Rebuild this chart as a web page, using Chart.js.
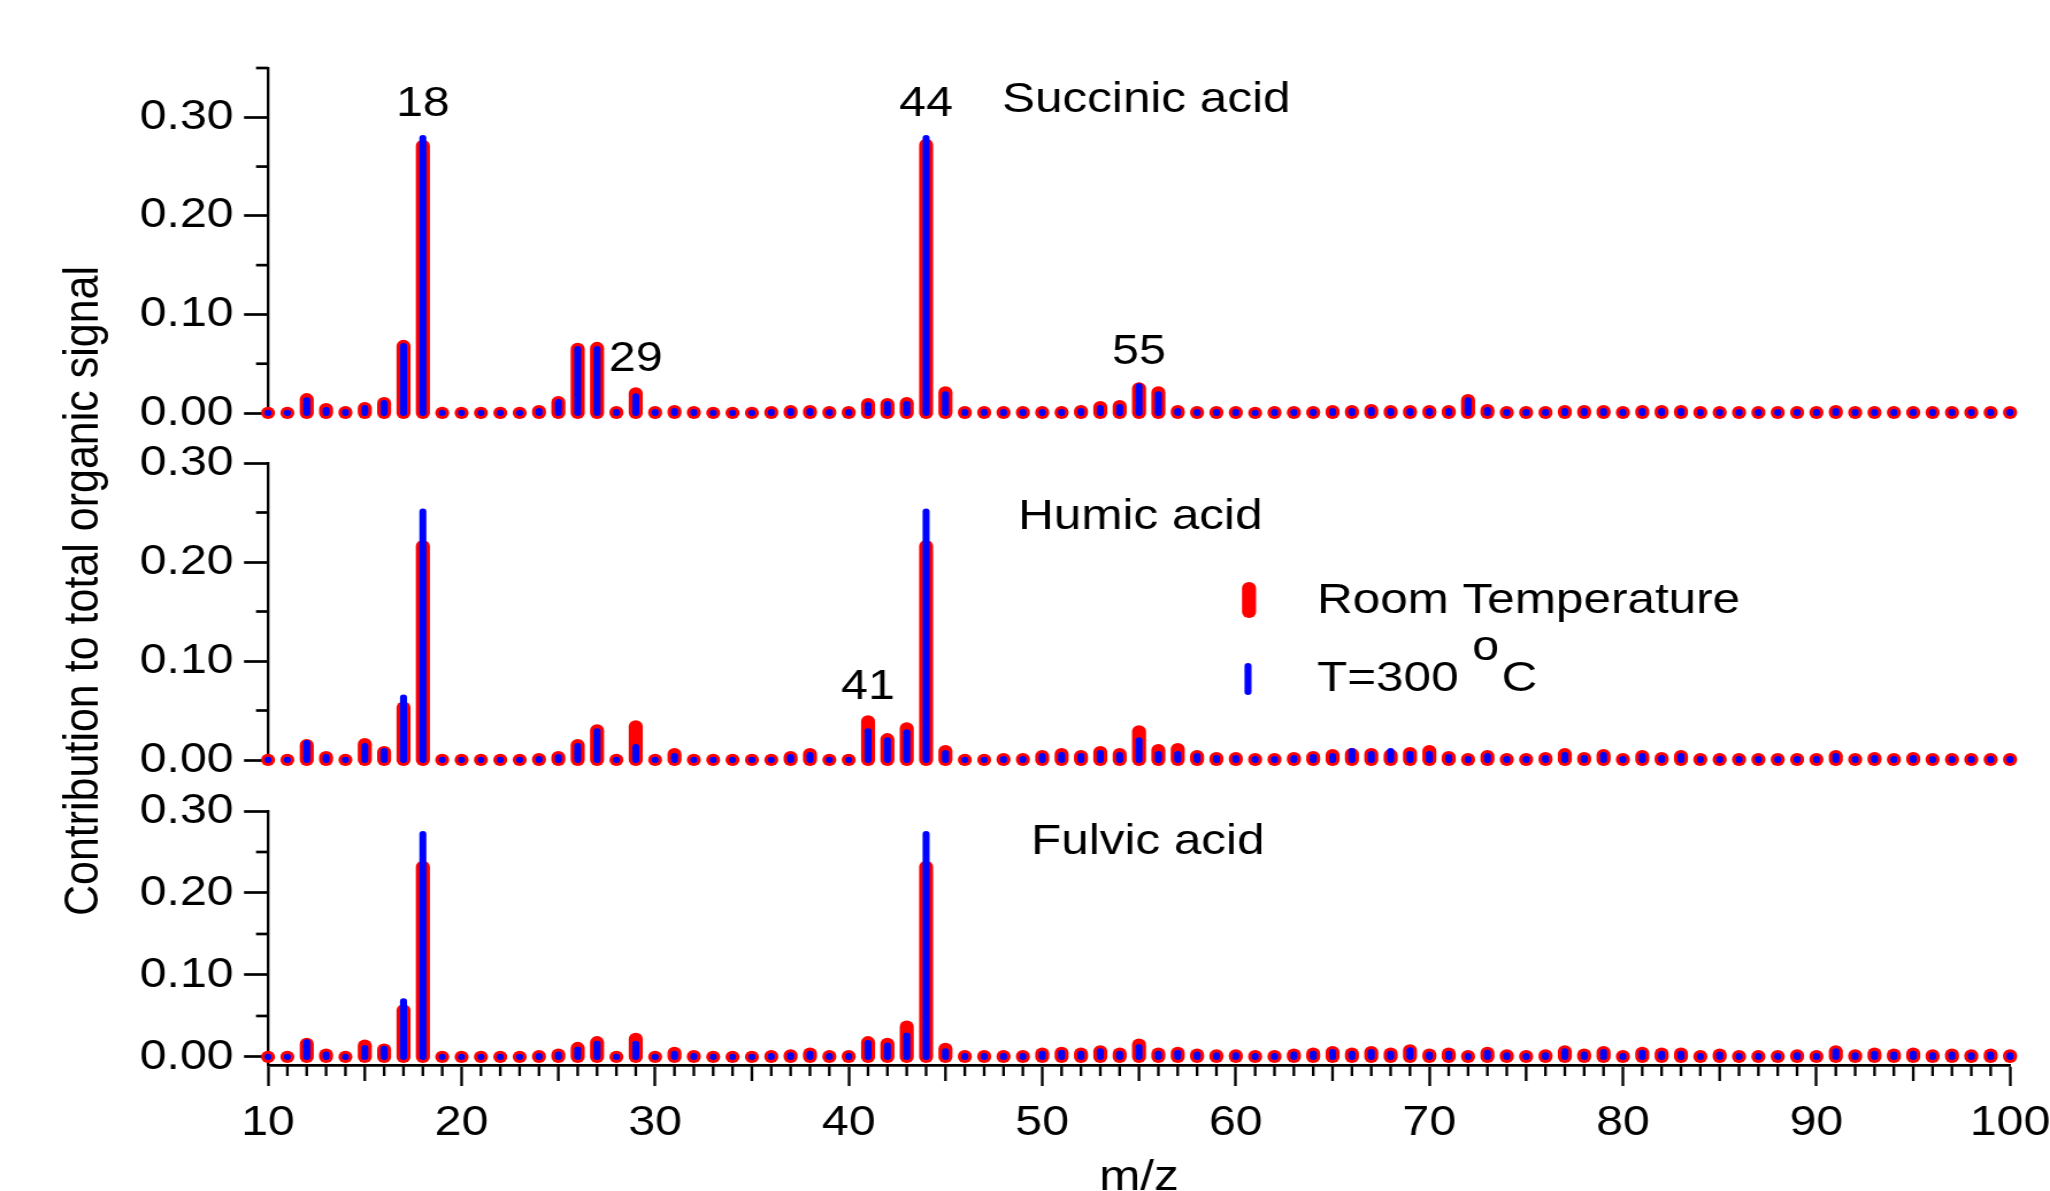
<!DOCTYPE html>
<html>
<head>
<meta charset="utf-8">
<script src="https://cdn.jsdelivr.net/npm/chart.js@4.4.1/dist/chart.umd.min.js"></script>
<style>
  html, body { margin: 0; padding: 0; background: #fff; overflow: hidden; }
  #wrap { position: relative; width: 2050px; height: 1191px; }
  canvas { position: absolute; left: 0; top: 0; }
</style>
</head>
<body>
<div id="wrap">
  <canvas id="succinic" width="1783" height="1191" style="width:2050px;height:1191px"></canvas>
  <canvas id="humic" width="1783" height="1191" style="width:2050px;height:1191px"></canvas>
  <canvas id="fulvic" width="1783" height="1191" style="width:2050px;height:1191px"></canvas>
</div>
<script>
// m/z categories
const mz = [10, 11, 12, 13, 14, 15, 16, 17, 18, 19,
  20, 21, 22, 23, 24, 25, 26, 27, 28, 29,
  30, 31, 32, 33, 34, 35, 36, 37, 38, 39,
  40, 41, 42, 43, 44, 45, 46, 47, 48, 49,
  50, 51, 52, 53, 54, 55, 56, 57, 58, 59,
  60, 61, 62, 63, 64, 65, 66, 67, 68, 69,
  70, 71, 72, 73, 74, 75, 76, 77, 78, 79,
  80, 81, 82, 83, 84, 85, 86, 87, 88, 89,
  90, 91, 92, 93, 94, 95, 96, 97, 98, 99,
  100]

const succinicRoom = [0, 0, 0.014, 0.004, 0.001, 0.005, 0.010, 0.068, 0.271, 0,
  0, 0, 0, 0, 0.002, 0.011, 0.065, 0.066, 0.001, 0.020,
  0.001, 0.002, 0.001, 0, 0, 0, 0.001, 0.002, 0.002, 0.001,
  0.001, 0.009, 0.009, 0.010, 0.272, 0.021, 0.001, 0.001, 0.001, 0.001,
  0.001, 0.001, 0.002, 0.006, 0.007, 0.025, 0.021, 0.002, 0.001, 0.001,
  0.001, 0, 0.001, 0.001, 0.001, 0.002, 0.002, 0.003, 0.002, 0.002,
  0.002, 0.002, 0.013, 0.003, 0.001, 0.001, 0.001, 0.002, 0.002, 0.002,
  0.001, 0.002, 0.002, 0.002, 0.001, 0.001, 0.001, 0.001, 0.001, 0.001,
  0.001, 0.002, 0.001, 0.001, 0.001, 0.001, 0.001, 0.001, 0.001, 0.001,
  0.001]
const succinic300 = [0, 0, 0.013, 0.003, 0.001, 0.005, 0.010, 0.068, 0.279, 0,
  0, 0, 0, 0, 0.002, 0.011, 0.065, 0.065, 0.001, 0.017,
  0.001, 0.002, 0.001, 0, 0, 0, 0.001, 0.002, 0.002, 0.001,
  0.001, 0.008, 0.009, 0.009, 0.279, 0.019, 0.001, 0.001, 0.001, 0.001,
  0.001, 0.001, 0.002, 0.005, 0.006, 0.027, 0.019, 0.002, 0.001, 0.001,
  0.001, 0, 0.001, 0.001, 0.001, 0.002, 0.002, 0.003, 0.002, 0.002,
  0.002, 0.002, 0.013, 0.003, 0.001, 0.001, 0.001, 0.002, 0.002, 0.002,
  0.001, 0.002, 0.002, 0.002, 0.001, 0.001, 0.001, 0.001, 0.001, 0.001,
  0.001, 0.002, 0.001, 0.001, 0.001, 0.001, 0.001, 0.001, 0.001, 0.001,
  0.001]

const humicRoom = [0, 0, 0.015, 0.003, 0, 0.016, 0.008, 0.053, 0.216, 0,
  0, 0, 0, 0, 0.001, 0.003, 0.015, 0.030, 0, 0.034,
  0, 0.006, 0, 0, 0, 0, 0, 0.003, 0.006, 0,
  0, 0.039, 0.021, 0.032, 0.216, 0.009, 0, 0, 0.001, 0.001,
  0.004, 0.006, 0.004, 0.008, 0.006, 0.029, 0.010, 0.011, 0.004, 0.002,
  0.002, 0.001, 0.001, 0.002, 0.003, 0.005, 0.006, 0.006, 0.005, 0.007,
  0.009, 0.003, 0.001, 0.004, 0.001, 0.001, 0.002, 0.006, 0.002, 0.005,
  0.001, 0.004, 0.002, 0.004, 0.001, 0.001, 0.001, 0.001, 0.001, 0.001,
  0.001, 0.004, 0.001, 0.002, 0.001, 0.002, 0.001, 0.001, 0.001, 0.001,
  0.001]
const humic300 = [0, 0, 0.017, 0.003, 0, 0.014, 0.009, 0.063, 0.251, 0,
  0, 0, 0, 0, 0.001, 0.003, 0.014, 0.029, 0, 0.013,
  0, 0.004, 0, 0, 0, 0, 0, 0.003, 0.005, 0,
  0, 0.029, 0.020, 0.028, 0.251, 0.007, 0, 0, 0.001, 0.001,
  0.004, 0.005, 0.004, 0.007, 0.005, 0.020, 0.006, 0.006, 0.004, 0.002,
  0.002, 0.001, 0.001, 0.002, 0.003, 0.004, 0.009, 0.006, 0.009, 0.006,
  0.006, 0.003, 0.001, 0.004, 0.001, 0.001, 0.002, 0.005, 0.002, 0.005,
  0.001, 0.004, 0.002, 0.004, 0.001, 0.001, 0.001, 0.001, 0.001, 0.001,
  0.001, 0.004, 0.001, 0.002, 0.001, 0.002, 0.001, 0.001, 0.001, 0.001,
  0.001]

const fulvicRoom = [0, 0, 0.016, 0.003, 0, 0.014, 0.009, 0.057, 0.232, 0,
  0, 0, 0, 0, 0.001, 0.003, 0.011, 0.018, 0, 0.022,
  0, 0.005, 0.001, 0, 0, 0, 0.001, 0.002, 0.004, 0.001,
  0.001, 0.018, 0.016, 0.037, 0.232, 0.010, 0.001, 0.001, 0.001, 0.001,
  0.004, 0.005, 0.004, 0.007, 0.004, 0.015, 0.004, 0.005, 0.003, 0.002,
  0.002, 0.001, 0.001, 0.003, 0.004, 0.006, 0.004, 0.006, 0.004, 0.008,
  0.003, 0.004, 0.001, 0.005, 0.002, 0.001, 0.002, 0.007, 0.003, 0.006,
  0.001, 0.005, 0.004, 0.004, 0.001, 0.003, 0.001, 0.001, 0.001, 0.002,
  0.001, 0.007, 0.002, 0.004, 0.003, 0.004, 0.002, 0.003, 0.002, 0.003,
  0.002]
const fulvic300 = [0, 0, 0.018, 0.003, 0, 0.011, 0.010, 0.068, 0.272, 0,
  0, 0, 0, 0, 0.001, 0.003, 0.009, 0.016, 0, 0.016,
  0, 0.004, 0.001, 0, 0, 0, 0.001, 0.002, 0.004, 0.001,
  0.001, 0.017, 0.014, 0.026, 0.272, 0.007, 0.001, 0.001, 0.001, 0.001,
  0.004, 0.005, 0.004, 0.007, 0.004, 0.012, 0.004, 0.005, 0.003, 0.002,
  0.002, 0.001, 0.001, 0.003, 0.004, 0.006, 0.004, 0.006, 0.004, 0.008,
  0.003, 0.004, 0.001, 0.005, 0.002, 0.001, 0.002, 0.007, 0.003, 0.006,
  0.001, 0.005, 0.004, 0.004, 0.001, 0.003, 0.001, 0.001, 0.001, 0.002,
  0.001, 0.007, 0.002, 0.004, 0.003, 0.004, 0.002, 0.003, 0.002, 0.003,
  0.002]

const yTicks = [0, 0.1, 0.2, 0.3]
const yMinorTop = [0.05, 0.15, 0.25, 0.35]
const yMinor = [0.05, 0.15, 0.25]
const xTicks = [10, 20, 30, 40, 50, 60, 70, 80, 90, 100]
const seriesNames = ['Room Temperature', 'T=300 °C']
const yTitle = 'Contribution to total organic signal'

// the original figure is stretched sideways, so canvases are drawn narrow and widened by css
const S = 2050 / 1783
const cx = (v) => v / S

Chart.defaults.font.family = "'Liberation Sans', Arial, Helvetica, sans-serif"
Chart.defaults.color = '#000'

const RED = '#ff0000'
const BLUE = '#0000ff'

function font(size) {
  return size + "px 'Liberation Sans', Arial, Helvetica, sans-serif"
}

// vertical stems with round ends, drawn from the points chart.js placed
const stems = {
  id: 'stems',
  afterDatasetsDraw(chart) {
    const ctx = chart.ctx
    const y0 = chart.scales.y.getPixelForValue(0)
    ctx.save()
    ctx.lineCap = 'round'
    chart.data.datasets.forEach((ds, i) => {
      ctx.strokeStyle = ds.borderColor
      ctx.lineWidth = ds.borderWidth
      chart.getDatasetMeta(i).data.forEach((pt) => {
        ctx.beginPath()
        ctx.moveTo(pt.x, y0)
        ctx.lineTo(pt.x, Math.min(pt.y, y0 - 0.1))
        ctx.stroke()
      })
    })
    ctx.restore()
  },
}

function makePanel(id, cfg) {
  const extras = {
    id: 'extras',
    afterDraw(chart) {
      const ctx = chart.ctx
      const xs = chart.scales.x
      const ys = chart.scales.y
      ctx.save()
      ctx.strokeStyle = '#000'
      ctx.fillStyle = '#000'

      // short y ticks
      ctx.lineWidth = 2.7
      cfg.minor.forEach((v) => {
        const y = ys.getPixelForValue(v)
        ctx.beginPath()
        ctx.moveTo(ys.right - cx(12), y)
        ctx.lineTo(ys.right, y)
        ctx.stroke()
      })

      // short x ticks
      if (cfg.showX) {
        ctx.lineWidth = 2.35
        mz.filter((m) => !xTicks.includes(m)).forEach((m) => {
          const x = xs.getPixelForValue(m)
          ctx.beginPath()
          ctx.moveTo(x, xs.top)
          ctx.lineTo(x, xs.top + (m % 5 === 0 ? 16 : 11))
          ctx.stroke()
        })
      }

      // panel name
      ctx.font = font(43)
      ctx.textAlign = 'left'
      ctx.textBaseline = 'alphabetic'
      ctx.fillText(cfg.title, cx(cfg.titleX), cfg.titleY)

      // peak labels
      ctx.font = font(42)
      ctx.textAlign = 'center'
      ctx.textBaseline = 'middle'
      cfg.peaks.forEach((m) => {
        const i = mz.indexOf(m)
        const top = Math.max(cfg.room[i], cfg.hot[i])
        ctx.fillText(String(m), xs.getPixelForValue(m), ys.getPixelForValue(top) - 34)
      })

      if (cfg.legend) {
        const rows = [{ y0: 588, y1: 612, x: 1249, ty: 613 }, { y0: 666, y1: 692, x: 1248, ty: 691 }]
        chart.data.datasets.forEach((ds, i) => {
          const r = rows[i]
          ctx.lineCap = 'round'
          ctx.strokeStyle = ds.borderColor
          ctx.lineWidth = ds.borderWidth
          ctx.beginPath()
          ctx.moveTo(cx(r.x), r.y0)
          ctx.lineTo(cx(r.x), r.y1)
          ctx.stroke()
          ctx.textAlign = 'left'
          ctx.textBaseline = 'alphabetic'
          ctx.font = font(43)
          const parts = ds.label.split('°')
          let x = cx(1317)
          ctx.fillText(parts[0], x, r.ty)
          if (parts.length > 1) {
            x += ctx.measureText(parts[0]).width
            ctx.font = font(42)
            ctx.fillText('o', x, r.ty - 31)
            x += ctx.measureText('o').width + 2
            ctx.font = font(43)
            ctx.fillText(parts[1], x, r.ty)
          }
        })
      }

      if (cfg.yTitle) {
        ctx.translate(73, 591)
        ctx.rotate(-Math.PI / 2)
        ctx.font = font(43)
        ctx.textAlign = 'center'
        ctx.textBaseline = 'middle'
        ctx.fillText(cfg.yTitle, 0, 0)
      }
      ctx.restore()
    },
  }

  return new Chart(document.getElementById(id), {
    type: 'scatter',
    data: {
      datasets: [
        {
          label: seriesNames[0],
          data: mz.map((m, i) => ({ x: m, y: cfg.room[i] })),
          borderColor: RED,
          borderWidth: 12.2,
          pointRadius: 0,
          showLine: false,
        },
        {
          label: seriesNames[1],
          data: mz.map((m, i) => ({ x: m, y: cfg.hot[i] })),
          borderColor: BLUE,
          borderWidth: 6.1,
          pointRadius: 0,
          showLine: false,
        },
      ],
    },
    options: {
      responsive: false,
      animation: false,
      events: [],
      devicePixelRatio: 1,
      layout: { padding: { left: 0, right: 1783 - cx(2010), top: cfg.top, bottom: cfg.bottom } },
      plugins: { legend: { display: false }, tooltip: { enabled: false } },
      scales: {
        x: {
          type: 'linear',
          min: 10,
          max: 100,
          display: cfg.showX,
          afterBuildTicks: (s) => { s.ticks = xTicks.map((v) => ({ value: v })) },
          afterFit: (s) => {
            if (cfg.showX) s.height = 1191 - 1065
            s.paddingLeft = 0
            s.paddingRight = 0
          },
          grid: { drawOnChartArea: false, tickLength: 21, tickWidth: 2.35, tickColor: '#000' },
          border: { display: true, color: '#000', width: 2.7 },
          ticks: { font: { size: 42 }, padding: 12, maxRotation: 0, autoSkip: false, callback: (v) => String(v) },
          title: { display: true, text: 'm/z', font: { size: 43, lineHeight: 1 }, padding: { top: 0, bottom: -9 } },
        },
        y: {
          type: 'linear',
          min: cfg.min,
          max: cfg.max,
          afterBuildTicks: (s) => { s.ticks = yTicks.map((v) => ({ value: v })) },
          afterFit: (s) => {
            s.width = cx(268)
            s.paddingTop = 0
            s.paddingBottom = 0
          },
          grid: { drawOnChartArea: false, tickLength: cx(24), tickWidth: 2.7, tickColor: '#000' },
          border: { display: true, color: '#000', width: 2.35 },
          ticks: { font: { size: 42 }, padding: 9, callback: (v) => v.toFixed(2) },
        },
      },
    },
    plugins: [stems, extras],
  })
}

makePanel('succinic', {
  room: succinicRoom, hot: succinic300, min: 0, max: 0.35, minor: yMinorTop,
  top: 68, bottom: 1191 - 413, showX: false,
  title: 'Succinic acid', titleX: 1002, titleY: 112, peaks: [18, 29, 44, 55],
})
makePanel('humic', {
  room: humicRoom, hot: humic300, min: 0, max: 0.3, minor: yMinor,
  top: 463, bottom: 1191 - 760, showX: false,
  title: 'Humic acid', titleX: 1018, titleY: 529, peaks: [41],
  legend: true, yTitle: yTitle,
})
makePanel('fulvic', {
  room: fulvicRoom, hot: fulvic300, min: -0.0098, max: 0.3, minor: yMinor,
  top: 811, bottom: 0, showX: true,
  title: 'Fulvic acid', titleX: 1031, titleY: 854, peaks: [],
})
</script>
</body>
</html>
